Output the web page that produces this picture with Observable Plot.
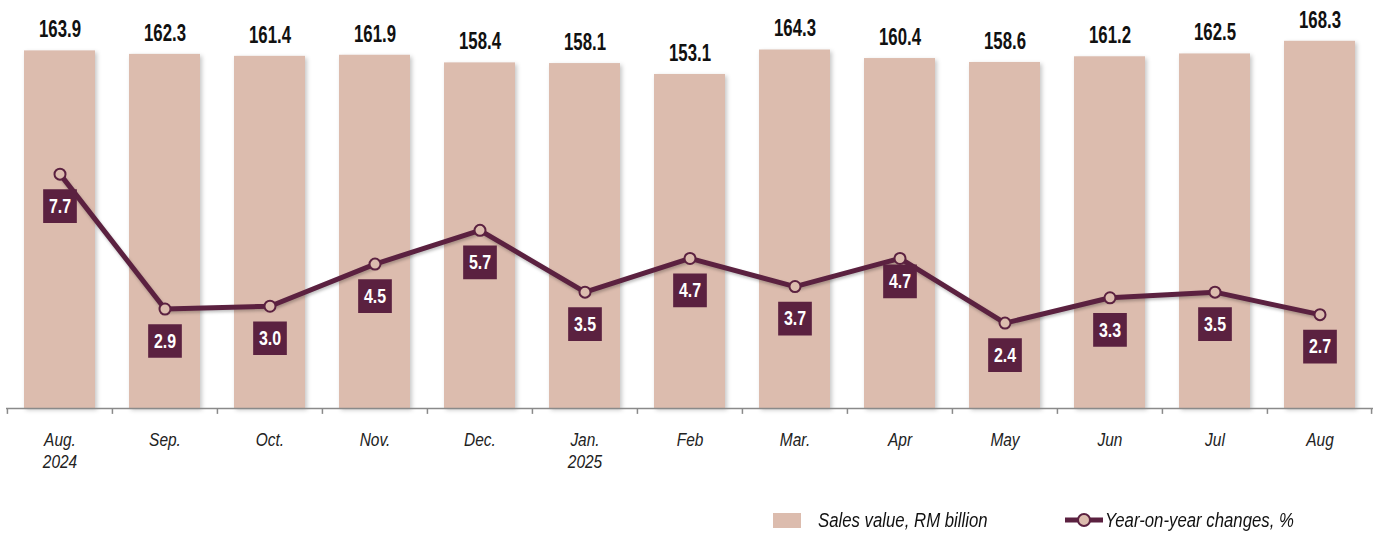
<!DOCTYPE html>
<html>
<head>
<meta charset="utf-8">
<script src="https://cdn.jsdelivr.net/npm/d3@7"></script>
<script src="https://cdn.jsdelivr.net/npm/@observablehq/plot@0.6"></script>
<style>
  html, body { margin: 0; padding: 0; background: #fff; }
  #wrap { position: relative; width: 1377px; height: 537px; overflow: hidden; }
  #legend { position: absolute; left: 0; top: 495px; width: 1377px; height: 42px;
    font-family: "Liberation Sans", Arial, sans-serif;
    font-style: italic; font-size: 19.5px; color: #111; }
  .lg { position: absolute; top: 14px; height: 22px; }
  .lg .sw { position: absolute; top: 4px; }
  .lg .tx { position: absolute; top: 0; white-space: nowrap; transform: scaleX(0.86); transform-origin: 0 50%; line-height: 22px; }
  g[aria-label="bar"] rect { filter: drop-shadow(2px 2px 2px rgba(0,0,0,0.22)); }
  g[aria-label="line"] path { filter: drop-shadow(1px 2px 1.5px rgba(0,0,0,0.25)); }
</style>
</head>
<body>
<div id="wrap">
  <div id="chart"></div>
  <div id="legend">
    <div class="lg" style="left:773px;">
      <span class="sw" style="left:0;width:28px;height:15px;background:#dcbcae;"></span>
      <span class="tx" style="left:45px;">Sales value, RM billion</span>
    </div>
    <div class="lg" style="left:1064px;">
      <svg class="sw" width="40" height="16" style="left:0;top:3px;">
        <line x1="1" y1="8" x2="39" y2="8" stroke="#5b2140" stroke-width="5"/>
        <circle cx="20" cy="8" r="6" fill="#dcbcae" stroke="#5b2140" stroke-width="2"/>
      </svg>
      <span class="tx" style="left:41px;">Year-on-year changes, %</span>
    </div>
  </div>
</div>
<script>
const months = ["Aug.\n2024","Sep.","Oct.","Nov.","Dec.","Jan.\n2025","Feb","Mar.","Apr","May","Jun","Jul","Aug"];
const sales = [163.9,162.3,161.4,161.9,158.4,158.1,153.1,164.3,160.4,158.6,161.2,162.5,168.3];
const yoy = [7.7,2.9,3.0,4.5,5.7,3.5,4.7,3.7,4.7,2.4,3.3,3.5,2.7];

const barColor = "#dcbcae";
const maroon = "#5b2140";

const W = 1377, H = 495, mL = 6, mR = 4, mT = 0, mB = 87;
const yMax = 187;                // primary (sales) axis top
const y2Domain = [-0.64, 13.88]; // secondary (yoy %) axis, mapped onto same pixel range
const toPrimary = d3.scaleLinear().domain(y2Domain).range([0, yMax]);

const data = months.map((m, i) => ({m, sales: sales[i], yoy: yoy[i], yl: toPrimary(yoy[i])}));
const step = (W - mL - mR) / months.length;

const chart = Plot.plot({
  width: W, height: H,
  marginTop: mT, marginBottom: mB, marginLeft: mL, marginRight: mR,
  style: {fontFamily: '"Liberation Sans",Arial,sans-serif', background: "#fff"},
  x: {domain: months, paddingInner: 0.324, paddingOuter: 0.162, axis: null},
  y: {domain: [0, yMax], axis: null},
  marks: [
    Plot.barY(data, {x: "m", y: "sales", fill: barColor}),
    Plot.ruleY([0], {stroke: "#8a8a8a", strokeWidth: 1.5}),
    Plot.ruleX(data, {x: "m", y1: 0, y2: -2.7, dx: -step / 2, stroke: "#8a8a8a", strokeWidth: 1.5}),
    Plot.ruleX(data.slice(-1), {x: "m", y1: 0, y2: -2.7, dx: step / 2 - 1, stroke: "#8a8a8a", strokeWidth: 1.5}),
    Plot.text(data, {x: "m", y: "sales", text: d => d.sales.toFixed(1), dy: -21, fontSize: 23, fontWeight: "bold", fill: "#111"}),
    Plot.text(data, {x: "m", y: 0, text: "m", dy: 22, lineAnchor: "top", fontSize: 18, lineHeight: 1.22, fontStyle: "italic", fill: "#222"}),
    Plot.line(data, {x: "m", y: "yl", stroke: maroon, strokeWidth: 5, strokeLinejoin: "round"}),
    Plot.dot(data, {x: "m", y: "yl", dy: 32, symbol: "square", r: 19, fill: maroon, filter: d => d.m !== "Apr"}),
    Plot.dot(data, {x: "m", y: "yl", dy: 23, symbol: "square", r: 19, fill: maroon, filter: d => d.m === "Apr"}),
    Plot.text(data, {x: "m", y: "yl", dy: 32, text: d => d.yoy.toFixed(1), fontSize: 21, fontWeight: "bold", fill: "#fff", filter: d => d.m !== "Apr"}),
    Plot.text(data, {x: "m", y: "yl", dy: 23, text: d => d.yoy.toFixed(1), fontSize: 21, fontWeight: "bold", fill: "#fff", filter: d => d.m === "Apr"}),
    Plot.dot(data, {x: "m", y: "yl", r: 5.5, fill: barColor, stroke: maroon, strokeWidth: 2})
  ]
});
document.getElementById("chart").appendChild(chart);

// Condense the text horizontally (the reference uses a narrow typeface)
const squeeze = [0.73, 0.86, 0.76, 0.76];
chart.querySelectorAll('g[aria-label="text"]').forEach((g, gi) => {
  const s = squeeze[gi] ?? 1;
  g.querySelectorAll("text").forEach(t => {
    const tr = t.getAttribute("transform");
    if (tr && tr.includes("translate")) {
      t.setAttribute("transform", tr + ` scale(${s},1)`);
    } else {
      const x = +(t.getAttribute("x") || 0), y = +(t.getAttribute("y") || 0);
      t.removeAttribute("x"); t.removeAttribute("y");
      t.setAttribute("transform", `translate(${x},${y}) ${tr || ""} scale(${s},1)`);
    }
  });
});
</script>
</body>
</html>
